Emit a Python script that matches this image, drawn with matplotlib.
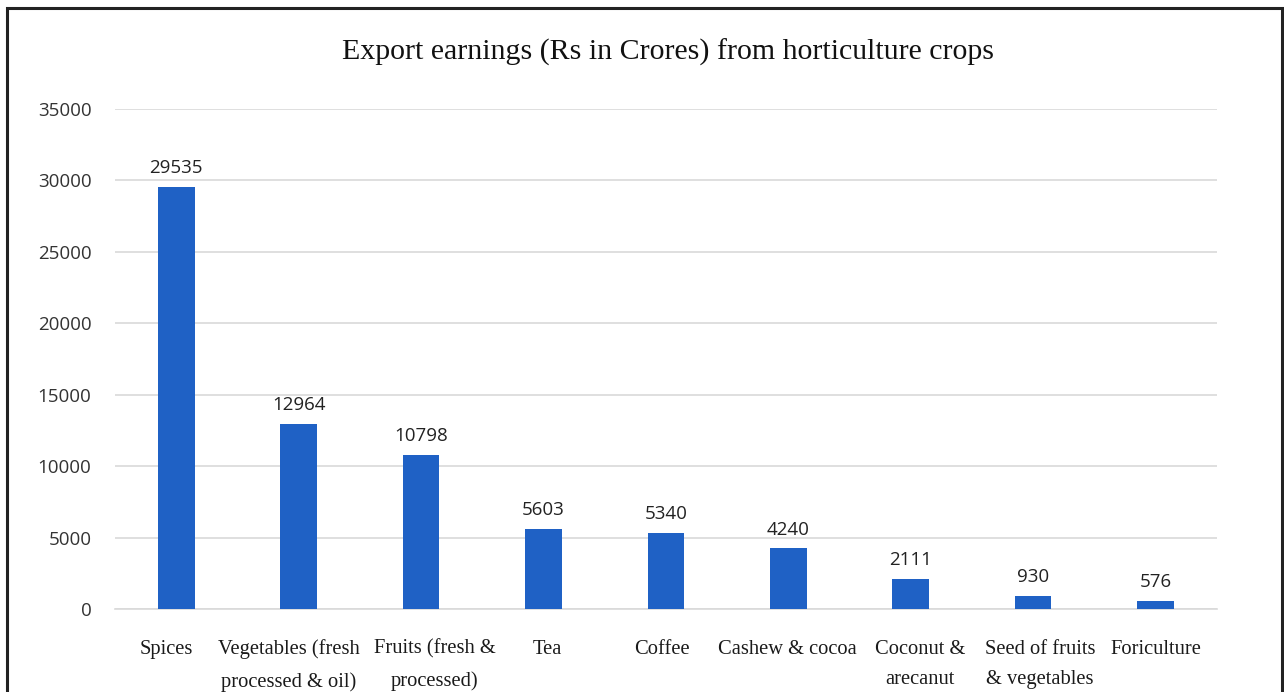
import matplotlib.pyplot as plt
from matplotlib.patches import Rectangle

categories = ["Spices", "Vegetables (fresh\nprocessed & oil)", "Fruits (fresh &\nprocessed)",
              "Tea", "Coffee", "Cashew & cocoa", "Coconut &\narecanut",
              "Seed of fruits\n& vegetables", "Foriculture"]
values = [29535, 12964, 10798, 5603, 5340, 4240, 2111, 930, 576]
yticks = [0, 5000, 10000, 15000, 20000, 25000, 30000, 35000]

# small horizontal nudges (points) of the category labels, as in the original
label_shift = [-7, -7, 10, 3, -3, -1, 7, 5, 0]

fig = plt.figure(figsize=(12.84, 6.92), dpi=100)
ax = fig.add_axes([0.0896, 0.12, 0.858, 0.7225])

x = range(len(categories))
bars = ax.bar(x, values, width=0.30, color="#1f61c5", zorder=3)

for b, v in zip(bars, values):
    ax.annotate(str(v), (b.get_x() + b.get_width() / 2, v), xytext=(0, 7),
                textcoords="offset points", ha="center", va="bottom",
                family="Open Sans", fontsize=13.5, color="#222222")

# category labels
for i, (cat, dx) in enumerate(zip(categories, label_shift)):
    ax.annotate(cat, (i, 0), xycoords=("data", "axes fraction"),
                xytext=(dx, -22), textcoords="offset points",
                ha="center", va="top", family="Liberation Serif",
                fontsize=14.8, color="#1a1a1a", linespacing=1.85,
                annotation_clip=False)

ax.set_xlim(-0.5, len(categories) - 0.5)
ax.set_ylim(0, 35000)
ax.set_yticks(yticks)
ax.set_yticklabels([str(t) for t in yticks], family="Open Sans",
                   fontsize=13.5, color="#333333")
ax.set_xticks(list(x))
ax.set_xticklabels([])
ax.tick_params(axis="x", length=0)
ax.tick_params(axis="y", length=0, pad=17)
ax.grid(axis="y", color="#d9d9d9", linewidth=1.2, zorder=0)
for s in ["top", "right", "left"]:
    ax.spines[s].set_visible(False)
ax.spines["bottom"].set_color("#d9d9d9")
ax.spines["bottom"].set_linewidth(1.2)

fig.text(0.52, 0.925, "Export earnings (Rs in Crores) from horticulture crops",
         family="Liberation Serif", fontsize=21.5, ha="center", va="center",
         color="#111111")

fig.patches.append(Rectangle((7 / 1284, -0.1), 1275 / 1284, 1.1 - 8 / 692,
                             transform=fig.transFigure, fill=False,
                             edgecolor="#222222", linewidth=2.2))

fig.savefig("out.png", dpi=100)
